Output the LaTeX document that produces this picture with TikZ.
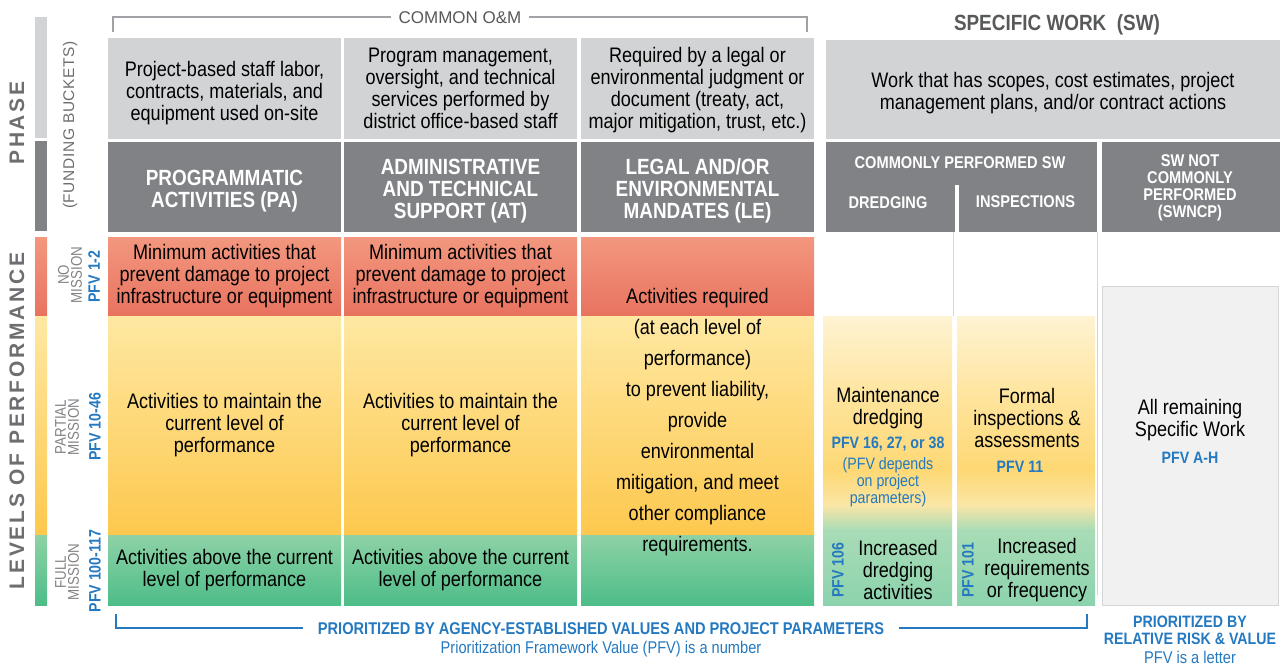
\documentclass[tikz,border=0pt]{standalone}
\usepackage{fontspec}
\setmainfont{Liberation Sans}
\newfontfamily\narrowfont[FakeStretch=0.86]{Liberation Sans}
\newfontfamily\trackfont[LetterSpace=13]{Liberation Sans}
\newfontfamily\lighttrack[LetterSpace=4]{Liberation Sans}
\usetikzlibrary{positioning}

\definecolor{descgray}{HTML}{D1D3D4}
\definecolor{headgray}{HTML}{808285}
\definecolor{redtop}{HTML}{F3977F}
\definecolor{redbot}{HTML}{E8735F}
\definecolor{yeltop}{HTML}{FEE8A2}
\definecolor{yelbot}{HTML}{FDC84E}
\definecolor{grntop}{HTML}{8ED2A6}
\definecolor{grnbot}{HTML}{4DBD88}
\definecolor{pfvblue}{HTML}{2479C0}
\definecolor{titlegray}{HTML}{58595B}
\definecolor{sidegray}{HTML}{6D6E71}
\definecolor{levelgray}{HTML}{808285}
\definecolor{brkgray}{HTML}{A0A2A5}
\definecolor{rulegray}{HTML}{D5D6D8}
\definecolor{ncfill}{HTML}{F1F1F2}
\definecolor{swy0}{HTML}{FEF3D3}
\definecolor{swy1}{HTML}{FEE39A}
\definecolor{swy2}{HTML}{FDD874}
\definecolor{swy3}{HTML}{FAE6A6}
\definecolor{swg0}{HTML}{A8DCB6}
\definecolor{swg2}{HTML}{8CD3AD}

% fading column of the commonly performed specific work
\newcommand{\swfade}[2]{%
  \shade[top color=swy0, bottom color=swy1] (#1,316) rectangle (#2,400.5);
  \shade[top color=swy1, bottom color=swy2] (#1,400) rectangle (#2,470.5);
  \shade[top color=swy2, bottom color=swy3] (#1,470) rectangle (#2,505.5);
  \shade[top color=swy3, bottom color=swg0] (#1,505) rectangle (#2,530.5);
  \shade[top color=swg0, bottom color=swg2] (#1,530) rectangle (#2,605);
}

\begin{document}
\begin{tikzpicture}[x=1pt, y=-1pt, inner sep=0pt, outer sep=0pt]
  \tikzset{
    cell/.style={rectangle, minimum width=233pt, align=center, text=black, font=\narrowfont\fontsize{21}{22}\selectfont},
    descbox/.style={cell, minimum height=101pt, fill=descgray},
    headbox/.style={cell, minimum height=90pt, fill=headgray},
    nobox/.style={cell, minimum height=79pt, top color=redtop, bottom color=redbot},
    partbox/.style={cell, minimum height=219pt, top color=yeltop, bottom color=yelbot},
    fullbox/.style={cell, minimum height=70pt, top color=grntop, bottom color=grnbot},
    headtext/.style={align=center, text=white, font=\narrowfont\bfseries\fontsize{22}{22}\selectfont},
    swhead/.style={text=white, align=center, font=\narrowfont\bfseries\fontsize{17}{17}\selectfont},
    bodytext/.style={align=center, text=black, font=\narrowfont\fontsize{21}{22}\selectfont},
    pfvlabel/.style={align=center, text=pfvblue, font=\narrowfont\bfseries\fontsize{16.5}{17}\selectfont},
    pfvnote/.style={align=center, text=pfvblue, font=\narrowfont\fontsize{16.5}{17}\selectfont},
    levellabel/.style={align=center, rotate=90, text=levelgray, font=\narrowfont\fontsize{15.5}{13}\selectfont},
    sidetitle/.style={rotate=90, text=sidegray, font=\trackfont\bfseries\fontsize{21}{21}\selectfont},
  }
  \useasboundingbox (0,0) rectangle (1280,666);

  % side bar and side titles
  \fill[descgray] (35,17) rectangle (47,138);
  \fill[headgray] (35,141) rectangle (47,231);
  \shade[top color=redtop, bottom color=redbot] (35,237) rectangle (47,316);
  \shade[top color=yeltop, bottom color=yelbot] (35,316) rectangle (47,535);
  \shade[top color=grntop, bottom color=grnbot] (35,535) rectangle (47,605);
  \node[sidetitle] (phase) at (17,123) {PHASE};
  \node[sidetitle] (levels) at (17,421) {LEVELS OF PERFORMANCE};
  \node[rotate=90, text=sidegray, font=\lighttrack\fontsize{15.5}{15.5}\selectfont] (buckets) at (70,125) {(FUNDING BUCKETS)};
  \node[levellabel] (nomis) at (70,275) {NO\\MISSION};
  \node[levellabel] (partmis) at (67,427) {PARTIAL\\MISSION};
  \node[levellabel] (fullmis) at (67,572) {FULL\\MISSION};
  \node[pfvlabel, rotate=90] (nopfv) at (94,276.5) {PFV 1-2};
  \node[pfvlabel, rotate=90] (partpfv) at (95,427) {PFV 10-46};
  \node[pfvlabel, rotate=90] (fullpfv) at (95,571) {PFV 100-117};

  % common O&M bracket
  \coordinate (omleft) at (113,32);
  \coordinate (omright) at (807,32);
  \draw[brkgray, line width=1.4pt] (omleft) -- ++(0,-15) -| (omright);
  \node[fill=white, inner xsep=8pt, inner ysep=2pt, text=titlegray, font=\fontsize{17}{17}\selectfont] (omtitle) at (460,18) {COMMON O\&M};

  % programmatic activities
  \node[descbox] (padesc) at (224.5,88.5) {};
  \node[bodytext] (padtext) at ([yshift=-4.5pt]padesc.center) {Project-based staff labor,\\contracts, materials, and\\equipment used on-site};
  \node[headbox, below=3pt of padesc] (pahead) {};
  \node[headtext] (pahtext) at ([yshift=-4pt]pahead.center) {PROGRAMMATIC\\ACTIVITIES (PA)};
  \node[nobox, below=5pt of pahead] (pano) {Minimum activities that\\prevent damage to project\\infrastructure or equipment};
  \node[partbox, below=0pt of pano] (papart) {Activities to maintain the\\current level of\\performance};
  \node[fullbox, below=0pt of papart] (pafull) {Activities above the current\\level of performance};

  % administrative and technical support
  \node[descbox, right=3pt of padesc] (atdesc) {};
  \node[bodytext] (atdtext) at (atdesc.center) {Program management,\\oversight, and technical\\services performed by\\district office-based staff};
  \node[headbox, below=3pt of atdesc] (athead) {};
  \node[headtext] (athtext) at ([yshift=-4pt]athead.center) {ADMINISTRATIVE\\AND TECHNICAL\\SUPPORT (AT)};
  \node[nobox, below=5pt of athead] (atno) {Minimum activities that\\prevent damage to project\\infrastructure or equipment};
  \node[partbox, below=0pt of atno] (atpart) {Activities to maintain the\\current level of\\performance};
  \node[fullbox, below=0pt of atpart] (atfull) {Activities above the current\\level of performance};

  % legal and environmental mandates
  \node[descbox, right=4pt of atdesc] (ledesc) {};
  \node[bodytext] (ledtext) at ([yshift=-1.5pt]ledesc.center) {Required by a legal or\\environmental judgment or\\document (treaty, act,\\major mitigation, trust, etc.)};
  \node[headbox, below=3pt of ledesc] (lehead) {};
  \node[headtext] (lehtext) at ([yshift=-4pt]lehead.center) {LEGAL AND/OR\\ENVIRONMENTAL\\MANDATES (LE)};
  \node[nobox, below=5pt of lehead] (leno) {};
  \node[partbox, below=0pt of leno] (lepart) {};
  \node[fullbox, below=0pt of lepart] (lefull) {};
  \node[bodytext, font=\narrowfont\fontsize{21}{31}\selectfont] (letext) at (697.5,422.5) {Activities required\\(at each level of\\performance)\\to prevent liability,\\provide\\environmental\\mitigation, and meet\\other compliance\\requirements.};

  % specific work
  \node[text=titlegray, font=\narrowfont\bfseries\fontsize{22}{22}\selectfont] (swtitle) at (1057,25) {SPECIFIC WORK\ \ (SW)};
  \node[descbox, minimum width=454pt, minimum height=99pt] (swdesc) at (1053,89.5) {};
  \node[bodytext] (swdtext) at ([yshift=-3.5pt]swdesc.center) {Work that has scopes, cost estimates, project\\management plans, and/or contract actions};
  \node[rectangle, fill=headgray, minimum width=271pt, minimum height=90pt] (swhcom) at (961.5,187) {};
  \node[rectangle, fill=headgray, minimum width=178pt, minimum height=90pt] (swhnot) at (1191,187) {};
  \fill[white] (955,185) rectangle (959,232);
  \node[swhead] (comlabel) at (960,163) {COMMONLY PERFORMED SW};
  \node[swhead] (dglabel) at (888,203) {DREDGING};
  \node[swhead] (insplabel) at (1025.5,202) {INSPECTIONS};
  \node[swhead] (notlabel) at (1190,188) {SW NOT\\COMMONLY\\PERFORMED\\(SWNCP)};
  \draw[rulegray, line width=0.8pt] (953,232) -- (953,316);
  \draw[rulegray, line width=0.8pt] (1097,232) -- (1097,595);

  % dredging
  \swfade{823}{952}
  \node[bodytext] (dgtext) at (888,408.5) {Maintenance\\dredging};
  \node[pfvlabel] (dgpfv) at (888,444) {PFV 16, 27, or 38};
  \node[pfvnote] (dgnote) at (888,482) {(PFV depends\\on project\\parameters)};
  \node[pfvlabel, rotate=90] (dgfullpfv) at (838,570) {PFV 106};
  \node[bodytext] (dgmore) at (898,570) {Increased\\dredging\\activities};

  % inspections
  \swfade{957}{1095}
  \node[bodytext] (insptext) at (1027,418) {Formal\\inspections \&\\assessments};
  \node[pfvlabel] (insppfv) at (1020,467) {PFV 11};
  \node[pfvlabel, rotate=90] (inspfullpfv) at (968,570) {PFV 101};
  \node[bodytext] (inspmore) at (1037,570) {Increased\\requirements\\or frequency};

  % not commonly performed
  \node[rectangle, minimum width=176pt, minimum height=319pt, fill=ncfill, draw=rulegray, line width=0.8pt] (nccol) at (1190,445.5) {};
  \node[bodytext] (nctext) at (1190,420) {All remaining\\Specific Work};
  \node[pfvlabel] (ncpfv) at (1190,458) {PFV A-H};

  % prioritization notes
  \coordinate (pvleft) at (116,614);
  \coordinate (pvright) at (1087,614);
  \draw[pfvblue, line width=1.8pt] (pvleft) -- ++(0,14) -| (pvright);
  \node[fill=white, inner xsep=15pt, inner ysep=2pt, text=pfvblue, font=\narrowfont\bfseries\fontsize{17}{17}\selectfont] (pvtitle) at (601,628.5) {PRIORITIZED BY AGENCY-ESTABLISHED VALUES AND PROJECT PARAMETERS};
  \node[text=pfvblue, font=\narrowfont\fontsize{17}{17}\selectfont] (pvnote) at (601,649) {Prioritization Framework Value (PFV) is a number};
  \node[align=center, text=pfvblue, font=\narrowfont\bfseries\fontsize{16.5}{17}\selectfont] (rvtitle) at (1190,630.5) {PRIORITIZED BY\\RELATIVE RISK \& VALUE};
  \node[text=pfvblue, font=\narrowfont\fontsize{17}{17}\selectfont] (rvnote) at (1190,657) {PFV is a letter};
\end{tikzpicture}
\end{document}
